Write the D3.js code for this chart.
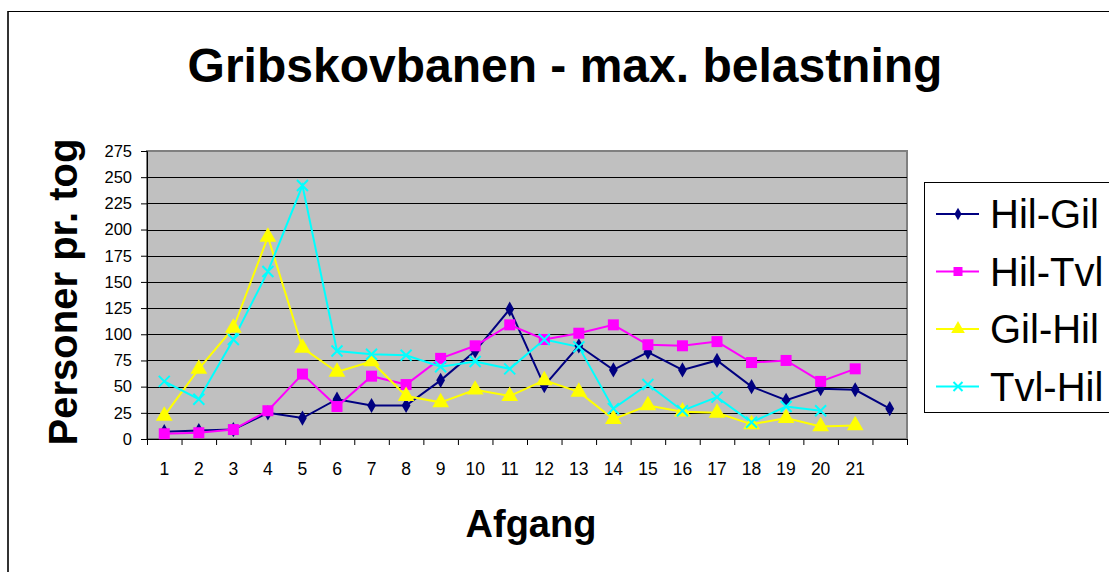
<html>
<head>
  <title>Gribskovbanen</title>
  <script src="https://d3js.org/d3.v7.min.js"></script>
  <meta charset="utf-8">
</head>

<style>
  body { margin: 0; background: #fff; }
  text { font-family: Arial, 'Liberation Sans', sans-serif; }
</style>

<body>
  <div class="chart"></div>

  <script>
    // afgang 1..22 (last one has no label)
    var afgang = ["1","2","3","4","5","6","7","8","9","10","11","12","13","14","15","16","17","18","19","20","21",""];

    var hilGil = [7, 8, 9, 25, 20, 38, 32, 32, 56, 84, 124, 51, 89, 66, 83, 66, 75, 50, 37, 48, 47, 29];
    var hilTvl = [5, 6, 9, 27, 62, 31, 60, 52, 77, 89, 109, 95, 101, 109, 90, 89, 93, 73, 75, 55, 67, null];
    var gilHil = [22, 67, 106, 193, 87, 64, 74, 41, 35, 47, 41, 56, 45, 19, 32, 26, 25, 14, 20, 12, 13, null];
    var tvlHil = [55, 38, 95, 160, 242, 84, 81, 80, 69, 74, 67, 95, 88, 29, 52, 27, 40, 16, 31, 27, null, null];

    var seriesNames = ["Hil-Gil", "Hil-Tvl", "Gil-Hil", "Tvl-Hil"];
    var seriesColors = ["#000080", "#ff00ff", "#ffff00", "#00ffff"];
    var seriesSymbols = [d3.symbolDiamond, d3.symbolSquare, d3.symbolTriangle, d3.symbolCross];
    var yTicks = [0, 25, 50, 75, 100, 125, 150, 175, 200, 225, 250, 275];

    var series = [hilGil, hilTvl, gilHil, tvlHil];

    var W = 1109, H = 572;
    var margin = {top: 151, left: 147};
    var width = 760, height = 288;

    var svg = d3.select('.chart')
      .append('svg')
        .attr('width', W)
        .attr('height', H);

    // outer chart border
    svg.append("line").attr("x1", 8).attr("x2", 8).attr("y1", 11).attr("y2", H)
        .attr("stroke", "#333").attr("stroke-width", 2);
    svg.append("line").attr("x1", 8).attr("x2", W).attr("y1", 11.5).attr("y2", 11.5)
        .attr("stroke", "#000").attr("stroke-width", 1);

    // title
    svg.append("text")
        .attr("x", 565)
        .attr("y", 82)
        .attr("text-anchor", "middle")
        .style("font-size", "48px")
        .style("font-weight", "700")
        .text("Gribskovbanen - max. belastning");

    var x = d3.scaleBand().domain(d3.range(afgang.length)).range([0, width]);
    var y = d3.scaleLinear().domain([0, 275]).range([height, 0]);

    var g = svg.append("g")
      .attr("transform", "translate(" + margin.left + "," + margin.top + ")");

    // plot area
    g.append("rect")
        .attr("width", width)
        .attr("height", height)
        .attr("fill", "#c0c0c0")
        .attr("stroke", "#808080")
        .attr("stroke-width", 2);

    // gridlines
    g.selectAll(".grid")
      .data(yTicks.slice(1, -1))
      .enter().append("line")
        .attr("x1", 0).attr("x2", width)
        .attr("y1", function(d) { return Math.round(y(d)) + 0.5; })
        .attr("y2", function(d) { return Math.round(y(d)) + 0.5; })
        .attr("stroke", "#000")
        .attr("stroke-width", 1);

    // y axis
    var yAxis = g.append("g")
        .call(d3.axisLeft(y).tickValues(yTicks).tickSize(6).tickPadding(9));
    yAxis.select(".domain").attr("stroke", "#000");
    yAxis.selectAll("text").style("font-size", "16.5px").attr("fill", "#000");

    // x axis: ticks at band boundaries
    var bounds = d3.range(afgang.length + 1).map(function(i) { return i * x.step(); });
    var xb = d3.scaleLinear().domain([0, width]).range([0, width]);
    var xAxis = g.append("g")
        .attr("transform", "translate(0," + height + ")")
        .call(d3.axisBottom(xb).tickValues(bounds).tickSize(6).tickFormat(""));
    xAxis.select(".domain").attr("stroke", "#000");

    g.selectAll(".xlab")
      .data(afgang)
      .enter().append("text")
        .attr("x", function(d, i) { return x(i) + x.bandwidth() / 2; })
        .attr("y", height + 36)
        .attr("text-anchor", "middle")
        .style("font-size", "17.5px")
        .text(function(d) { return d; });

    // lines + markers
    var line = d3.line()
      .defined(function(d) { return d != null; })
      .x(function(d, i) { return x(i) + x.bandwidth() / 2; })
      .y(function(d) { return y(d); });

    series.forEach(function(s, k) {
      g.append("path")
          .attr("d", line(s))
          .attr("fill", "none")
          .attr("stroke", seriesColors[k])
          .attr("stroke-width", 2);
    });

    function marker(sel, k, size) {
      if (k === 3) {
        var r = size;
        sel.append("path")
            .attr("d", "M" + (-r) + "," + (-r) + "L" + r + "," + r + "M" + (-r) + "," + r + "L" + r + "," + (-r))
            .attr("fill", "none")
            .attr("stroke", seriesColors[k])
            .attr("stroke-width", 2);
      } else {
        var area = k === 0 ? size * size * 2.2 : (k === 1 ? size * size * 4 : size * size * 4);
        sel.append("path")
            .attr("d", d3.symbol().type(seriesSymbols[k]).size(area)())
            .attr("fill", seriesColors[k]);
      }
    }

    series.forEach(function(s, k) {
      s.forEach(function(v, i) {
        if (v == null) return;
        var m = g.append("g")
            .attr("transform", "translate(" + (x(i) + x.bandwidth() / 2) + "," + y(v) + ")");
        marker(m, k, 5.5);
      });
    });

    // axis titles
    svg.append("text")
        .attr("transform", "translate(77,292) rotate(-90)")
        .attr("text-anchor", "middle")
        .style("font-size", "40px")
        .style("font-weight", "700")
        .text("Personer pr. tog");

    svg.append("text")
        .attr("x", 531)
        .attr("y", 537)
        .attr("text-anchor", "middle")
        .style("font-size", "38px")
        .style("font-weight", "700")
        .text("Afgang");

    // legend
    var legend = svg.append("g").attr("transform", "translate(924,182)");
    legend.append("rect")
        .attr("x", 0.5).attr("y", 0.5)
        .attr("width", 200).attr("height", 230)
        .attr("fill", "#fff")
        .attr("stroke", "#000");

    seriesNames.forEach(function(name, k) {
      var row = legend.append("g").attr("transform", "translate(0," + (32 + k * 57.5) + ")");
      row.append("line")
          .attr("x1", 12).attr("x2", 55)
          .attr("stroke", seriesColors[k])
          .attr("stroke-width", 2);
      var m = row.append("g").attr("transform", "translate(34,0)");
      marker(m, k, 4.5);
      row.append("text")
          .attr("x", 66)
          .attr("y", 14)
          .style("font-size", "40px")
          .text(name);
    });
  </script>

</body>
</html>
